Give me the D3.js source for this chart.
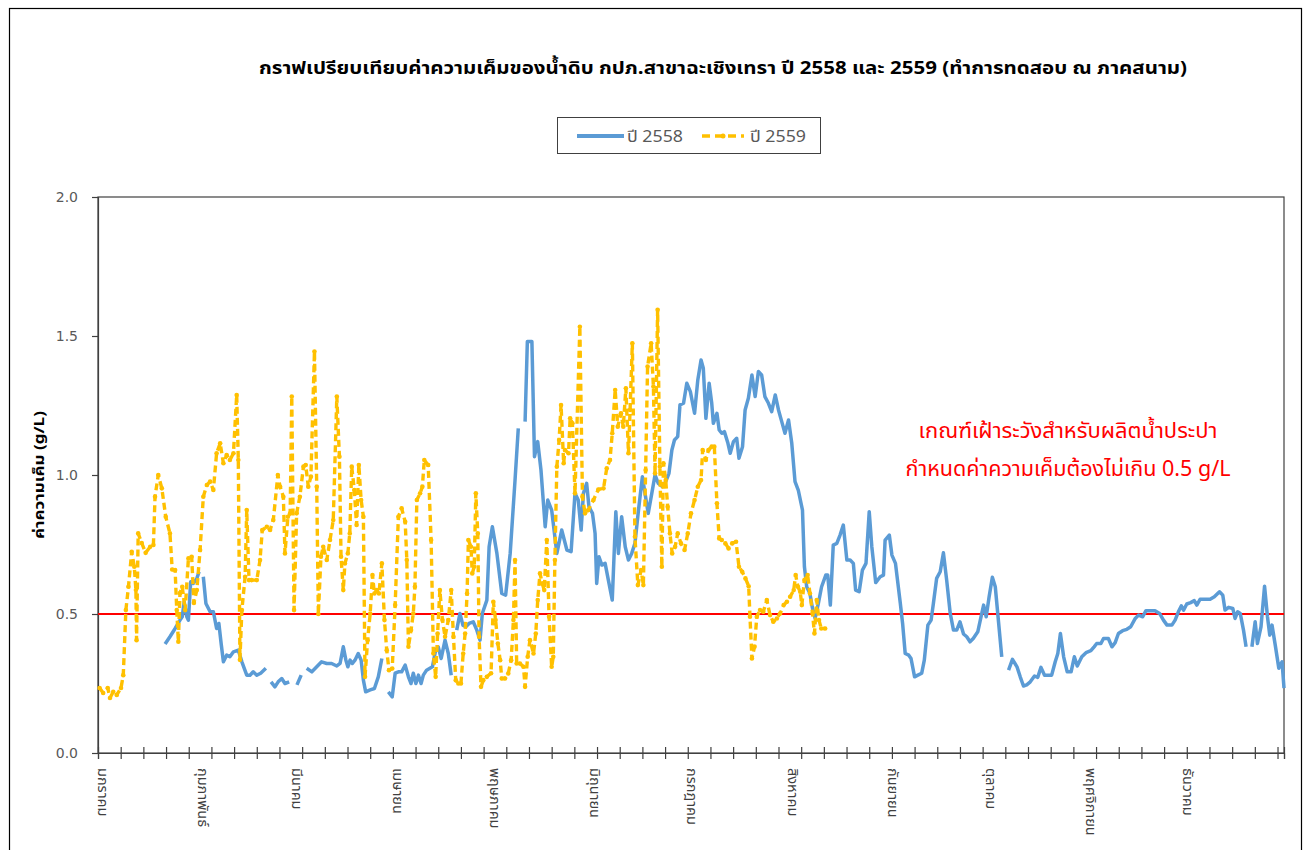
<!DOCTYPE html>
<html><head><meta charset="utf-8">
<script src="https://cdn.jsdelivr.net/npm/d3@7"></script>
<style>body{margin:0;background:#fff;} svg{display:block}</style>
</head><body><svg id="c" width="1306" height="850"></svg>
<script>
const titleText = "กราฟเปรียบเทียบค่าความเค็มของน้ำดิบ กปภ.สาขาฉะเชิงเทรา ปี 2558 และ 2559 (ทำการทดสอบ ณ ภาคสนาม)";
const yTitle = "ค่าความเค็ม (g/L)";
const seriesNames = ["ปี 2558", "ปี 2559"];
const monthLabels = ["มกราคม","กุมภาพันธ์","มีนาคม","เมษายน","พฤษภาคม","มิถุนายน","กรกฎาคม","สิงหาคม","กันยายน","ตุลาคม","พฤศจิกายน","ธันวาคม"];
const monthStartDays = [0,31,60,91,121,152,182,213,244,274,305,335];
const yTicks = [0, 0.5, 1.0, 1.5, 2.0];
const thresholdValue = 0.5;
const noteLines = ["เกณฑ์เฝ้าระวังสำหรับผลิตน้ำประปา", "กำหนดค่าความเค็มต้องไม่เกิน 0.5 g/L"];

// [day of year, salinity g/L]; null = no measurement (gap)
const salt2558 = [
[20.2,.392],[21.7,.418],[23.3,.448],[24.8,.478],[25.5,.49],[26.1,.544],[26.9,.49],[27.4,.478],[28.1,.616],[28.9,.61],[30,.628],[30.7,.652],null,
[32,.634],[32.8,.538],[34.1,.508],[35.1,.508],[36.1,.448],[36.8,.466],[37.5,.394],[38.2,.328],[39.2,.352],[40.2,.346],[41.3,.364],[42.8,.37],[43.9,.328],[45.4,.28],[46.4,.28],[47.4,.292],[48.5,.28],[49.7,.287],[51.3,.305],null,
[52.9,.256],[54.1,.238],[55.1,.256],[56.2,.268],[57.2,.25],[58.5,.256],null,
[60.9,.245],[62.2,.28],null,
[63.9,.305],[65.5,.292],[67,.31],[68.5,.328],[70.1,.322],[71.6,.322],[73.2,.313],[74.2,.322],[75.2,.382],[76,.334],[76.6,.31],[77.3,.334],[78,.322],[78.8,.334],[79.8,.358],[80.7,.334],[81.4,.262],[82.1,.22],[83.5,.227],[84.8,.232],[86,.274],[87.1,.34],null,
[89.1,.22],[90.3,.202],[91.2,.287],[92.2,.292],[93.2,.292],[94.3,.316],[95.3,.274],[96.1,.25],[96.8,.287],[97.6,.25],[98.4,.28],[99.2,.25],[99.9,.28],[100.9,.298],[102.7,.31],[103.7,.37],[104.5,.382],[105.4,.34],[106.6,.406],[107.6,.358],[108.5,.28],null,
[110.2,.442],[111.2,.502],[112.1,.46],[113,.454],[114,.466],[115.3,.472],[116.4,.442],[117.4,.406],[118.1,.502],[119.5,.55],[120.2,.742],[121.2,.814],[122.6,.718],[124.1,.574],[125.3,.568],[126.7,.718],[128.2,.982],[129.2,1.168],null,
[131.3,1.192],[132,1.48],[133.4,1.48],[134.2,1.066],[135.2,1.12],[136.2,1.018],[137.5,.814],[138.3,.91],[139.5,.874],[141.1,.718],[142.6,.802],[144.2,.73],[145.5,.724],[146.7,.934],[147.7,.91],[148.6,.802],[149.3,.934],[150.3,.97],[151,.886],[152.1,.862],[152.9,.79],[153.4,.61],[154.1,.706],[155,.676],[156,.682],[157,.622],[158.2,.55],[159.3,.868],[160.1,.718],[161.1,.85],[162.2,.742],[163.2,.694],[164.2,.718],[165.2,.754],[166.3,.874],[167.5,.994],[168.3,.934],[169.3,.862],[170.4,.934],[171.4,1.0],[172.4,.97],[173.7,.958],[174.7,.976],[175.7,1.006],[176.6,1.09],[177.4,1.126],[178.4,1.138],[179.1,1.252],[180.2,1.258],[181.2,1.33],[182.3,1.30],[183.6,1.222],[184.6,1.342],[185.6,1.414],[186.3,1.384],[187.1,1.204],[188.1,1.33],[188.9,1.258],[189.4,1.186],[190.5,1.222],[191.2,1.162],[192,1.15],[192.8,1.156],[193.9,1.114],[194.6,1.078],[195.6,1.12],[196.6,1.132],[197.3,1.06],[198.4,1.102],[199.2,1.234],[200.2,1.276],[201.3,1.36],[202.3,1.282],[203.3,1.372],[204.3,1.36],[205.3,1.282],[206.4,1.258],[207.4,1.228],[208.5,1.288],[209.5,1.234],[210.5,1.192],[211.5,1.15],[212.6,1.198],[213.6,1.114],[214.6,.976],[215.6,.946],[216.9,.874],[217.5,.67],[218.2,.598],[219.2,.574],[219.9,.526],[220.8,.484],[221.8,.538],[222.8,.598],[224.1,.64],[224.7,.64],[225.5,.532],[226.4,.748],[227.5,.754],[228.5,.784],[229.5,.82],[230.6,.694],[231.6,.694],[232.6,.682],[233.3,.586],[234.4,.58],[235.4,.658],[236.5,.682],[237.5,.868],[238.3,.742],[239.5,.613],[240.9,.634],[241.9,.64],[242.4,.766],[243.7,.784],[244.5,.712],[245.6,.682],[247.1,.538],[247.8,.466],[248.6,.358],[249.7,.352],[250.4,.34],[251.5,.274],[252.5,.28],[253.7,.287],[254.5,.334],[255.6,.46],[256.6,.478],[257.3,.538],[258.3,.628],[259.4,.652],[260.4,.72],[261.4,.622],[262.5,.502],[263.5,.442],[264.5,.442],[265.5,.472],[266.6,.428],[267.6,.418],[268.6,.40],[269.6,.412],[271,.436],[272,.49],[272.8,.532],[273.6,.49],[274.5,.562],[275.5,.632],[276.4,.598],[277.4,.472],[278.4,.346],null,
[280.5,.298],[281.7,.337],[283.1,.31],[284.1,.274],[285.1,.241],[286.1,.245],[287.2,.256],[288.5,.277],[289.5,.272],[290.5,.308],[291.6,.28],[292.8,.28],[293.8,.28],[294.9,.328],[295.7,.358],[296.5,.43],[297.5,.346],[298.6,.292],[299.8,.292],[300.8,.346],[301.7,.313],[303.1,.346],[304.4,.361],[305.9,.368],[306.9,.382],[307.7,.394],[309,.394],[309.8,.412],[311.3,.412],[312.4,.382],[313.4,.397],[314.4,.43],[315.7,.44],[317,.445],[318.2,.454],[319.6,.484],[320.6,.496],[321.9,.49],[322.9,.512],[324.2,.512],[325.7,.512],[327.1,.502],[328.3,.478],[329.4,.46],[330.9,.46],[331.9,.478],[332.9,.508],[333.8,.529],[334.5,.514],[335.5,.536],[336.7,.541],[337.8,.548],[338.6,.532],[339.6,.553],[341.2,.553],[342.7,.553],[344,.562],[345.6,.58],[346.6,.568],[347.3,.514],[348.4,.524],[349.7,.52],[350.4,.484],[351.2,.508],[352,.502],[353,.442],[353.8,.382],null,
[355.6,.382],[356.6,.472],[357.3,.394],[358.4,.454],[359.5,.60],[360.4,.49],[361.1,.424],[361.8,.46],[362.8,.388],[363.9,.305],[364.9,.328],[365.5,.233]
];

const salt2559 = [
[0,.234],[1.1,.216],[2.5,.234],[3.2,.198],[4.2,.22],[5.3,.209],[6.6,.234],[7.3,.28],[8.1,.514],[8.9,.598],[9.9,.724],[10.7,.67],[11.2,.586],[11.4,.406],[11.9,.79],[13,.755],[14.2,.72],[15.6,.742],[16.6,.748],[17.1,.922],[18.1,1.0],[19.2,.952],[20.4,.85],[21.7,.79],[22.4,.66],[23.3,.658],[23.8,.514],[24.3,.40],[24.8,.575],[25.5,.598],[26.4,.514],[27.4,.70],[28.4,.706],[29.1,.54],[30,.586],[31,.73],[32,.922],[33.1,.964],[34.1,.976],[35.1,.946],[36.1,1.078],[37.2,1.114],[38.2,1.042],[39.2,1.072],[40.2,1.054],[41.3,1.078],[42.3,1.288],[42.8,1.054],[43.3,.335],[43.9,.514],[44.9,.634],[45.4,.874],[46.1,.622],[46.9,.622],[48.5,.622],[49.5,.694],[50.2,.802],[51.6,.814],[52.6,.802],[53.6,.838],[55,1.0],[55.7,.958],[56.7,.922],[57.2,.718],[58.1,.85],[58.8,.862],[59.3,1.282],[60,.514],[60.8,.862],[61.8,.922],[62.9,1.03],[63.6,1.036],[64.4,.958],[65.2,.994],[66.3,1.444],[67,.958],[67.5,.50],[68.3,.706],[69,.742],[70.1,.694],[71.1,.766],[72.1,.838],[73.2,1.282],[74,1.066],[74.5,.706],[75.2,.586],[75.7,.682],[76.6,.718],[77.2,.79],[77.8,1.03],[78.6,.946],[79.3,.82],[80,1.036],[80.7,.91],[81.4,.85],[81.9,.274],[82.7,.406],[83.5,.502],[84.2,.64],[84.8,.574],[85.5,.586],[86.2,.574],[87.1,.682],[87.9,.478],[88.6,.37],[89.3,.298],[90.3,.304],[91.2,.532],[92.2,.85],[93.2,.88],[94.3,.832],[94.8,.694],[95.3,.382],[96.1,.442],[96.8,.502],[97.3,.598],[97.9,.91],[98.9,.934],[99.6,.958],[100.2,1.054],[101.4,1.036],[102.3,.766],[103,.358],[103.7,.274],[104.3,.43],[105,.586],[105.8,.478],[106.6,.418],[107.6,.478],[108.5,.586],[109.2,.418],[109.9,.262],[110.7,.25],[111.5,.25],[112.2,.358],[112.8,.43],[113.4,.574],[113.8,.766],[114.6,.742],[115,.646],[115.6,.67],[116.1,.934],[116.7,.79],[117.1,.418],[117.7,.238],[118.4,.262],[119.5,.274],[120.8,.287],[121.5,.544],[122.2,.478],[122.9,.394],[123.6,.334],[124.1,.268],[125.1,.268],[126.1,.286],[127,.334],[127.7,.478],[128.2,.694],[128.7,.322],[129.7,.322],[130.8,.31],[131.3,.238],[132.1,.346],[132.8,.406],[133.9,.358],[134.6,.43],[135.2,.55],[135.9,.646],[136.6,.61],[137.2,.586],[138,.766],[138.7,.49],[139.5,.31],[140,.346],[140.5,.694],[141.1,1.03],[141.8,1.126],[142.4,1.252],[143.2,1.042],[143.6,1.09],[144.7,1.078],[145.2,1.204],[145.9,1.186],[146.7,.934],[148.2,1.533],[149,.922],[149.8,.862],[150.8,.874],[152.4,.91],[153.9,.948],[155.5,.952],[156.5,1.024],[157.5,1.054],[158.2,1.15],[159.1,1.306],[159.9,1.174],[160.9,1.222],[161.6,1.174],[162.4,1.312],[163.2,1.078],[163.7,1.234],[164.4,1.474],[165.2,.778],[166.1,.604],[167.1,.658],[167.8,.604],[168.5,1.018],[169.1,1.39],[170.2,1.474],[170.9,1.318],[171.4,1.006],[172.2,1.594],[172.9,1.03],[173.5,.67],[174,1.042],[174.7,.982],[175.3,.886],[176,.79],[176.7,.718],[177.6,.742],[178.4,.79],[179.4,.754],[180.5,.73],[181.5,.79],[182.5,.862],[183.6,.91],[184.6,.958],[185.6,.982],[186.1,1.09],[187.1,1.054],[187.9,1.09],[188.9,1.102],[189.7,1.102],[190.5,.898],[191.2,.772],[192,.766],[193.1,.754],[194.1,.736],[195.2,.754],[196.4,.76],[197.3,.67],[198.3,.652],[199.3,.628],[200.3,.60],[200.7,.49],[201.3,.34],[202.1,.382],[202.8,.49],[203.8,.514],[204.8,.508],[205.9,.55],[206.9,.496],[207.9,.472],[209,.484],[210,.502],[211.1,.532],[212.1,.544],[213.1,.562],[214.2,.586],[214.8,.64],[215.5,.598],[216.2,.58],[216.7,.532],[217.5,.622],[218.5,.64],[219.2,.574],[220,.502],[220.6,.43],[221.3,.55],[222,.478],[222.7,.448],[223.9,.448]
];

const colors = {s2558: "#5B9BD5", s2559: "#FFC000", threshold: "#FF0000", axis: "#404040", label: "#595959"};
const thaiFont = "Tahoma, 'Noto Sans Thai', 'Leelawadee UI', 'Noto Sans', sans-serif";

const svg = d3.select("#c");
svg.append("rect").attr("x",9.5).attr("y",8.5).attr("width",1292).attr("height",900)
  .attr("fill","#fff").attr("stroke","#000").attr("stroke-width",1.2);

const W = {left:98, right:1284, top:197, bottom:753};
const x = d3.scaleLinear().domain([0,366]).range([W.left, W.right]);
const y = d3.scaleLinear().domain([0,2]).range([W.bottom, W.top]);
const px = d => x(d[0] + 0.5);

// plot frame
svg.append("rect").attr("x",W.left).attr("y",W.top).attr("width",W.right-W.left).attr("height",W.bottom-W.top)
  .attr("fill","none").attr("stroke",colors.axis).attr("stroke-width",1.2);

// title
svg.append("text").attr("x",723).attr("y",74).attr("text-anchor","middle")
  .attr("font-family",thaiFont).attr("font-size",18).attr("font-weight","bold").attr("fill","#000")
  .attr("textLength",928).attr("lengthAdjust","spacingAndGlyphs").text(titleText);

// legend
const lg = svg.append("g");
lg.append("rect").attr("x",557.5).attr("y",117.5).attr("width",263).attr("height",36)
  .attr("fill","#fff").attr("stroke","#404040").attr("stroke-width",1);
lg.append("line").attr("x1",577).attr("x2",624).attr("y1",136).attr("y2",136)
  .attr("stroke",colors.s2558).attr("stroke-width",4);
lg.append("text").attr("x",627).attr("y",142).attr("font-family",thaiFont).attr("font-size",16).attr("fill",colors.label)
  .attr("textLength",56).attr("lengthAdjust","spacingAndGlyphs").text(seriesNames[0]);
lg.append("line").attr("x1",702).attr("x2",744).attr("y1",136).attr("y2",136)
  .attr("stroke",colors.s2559).attr("stroke-width",3.5).attr("stroke-dasharray","8,5");
lg.append("circle").attr("cx",723).attr("cy",136).attr("r",2.5).attr("fill",colors.s2559);
lg.append("text").attr("x",750).attr("y",142).attr("font-family",thaiFont).attr("font-size",16).attr("fill",colors.label)
  .attr("textLength",56).attr("lengthAdjust","spacingAndGlyphs").text(seriesNames[1]);

// y axis
const ya = svg.append("g").attr("transform",`translate(${W.left},0)`)
  .call(d3.axisLeft(y).tickValues(yTicks).tickFormat(d3.format(".1f")).tickSize(6).tickPadding(14));
ya.select(".domain").attr("stroke",colors.axis).attr("stroke-width",1.2);
ya.selectAll(".tick line").attr("stroke",colors.axis).attr("stroke-width",1.2);
ya.selectAll(".tick text").attr("font-family","'DejaVu Sans', 'Liberation Sans', sans-serif").attr("font-size",14).attr("fill",colors.label);

// y title
svg.append("text").attr("transform",`translate(44,${(W.top+W.bottom)/2}) rotate(-90)`)
  .attr("text-anchor","middle").attr("font-family",thaiFont).attr("font-size",14).attr("font-weight","bold").attr("fill","#000")
  .attr("textLength",128).attr("lengthAdjust","spacingAndGlyphs").text(yTitle);

// x axis: weekly ticks crossing the axis line
const xa = svg.append("g").attr("transform",`translate(0,${W.bottom})`)
  .call(d3.axisBottom(x).tickValues(d3.range(0,366,7).concat([366])).tickFormat("").tickSize(6));
xa.select(".domain").attr("stroke",colors.axis).attr("stroke-width",1.2);
xa.selectAll(".tick line").attr("y1",-6).attr("y2",6).attr("stroke",colors.axis).attr("stroke-width",1.2);

// month labels
svg.append("g").selectAll("text").data(monthStartDays).join("text")
  .attr("transform",(d)=>`translate(${x(d+0.5)+2},${W.bottom+15}) rotate(90)`)
  .attr("text-anchor","start").attr("dominant-baseline","central")
  .attr("font-family",thaiFont).attr("font-size",14.5).attr("fill",colors.axis)
  .text((d,i)=>monthLabels[i]);

// threshold line
svg.append("line").attr("x1",W.left).attr("x2",W.right).attr("y1",y(thresholdValue)).attr("y2",y(thresholdValue))
  .attr("stroke",colors.threshold).attr("stroke-width",2);

const line = d3.line().defined(d => d != null).x(px).y(d => y(d[1]));

// 2558 series
svg.append("path").datum(salt2558).attr("d",line).attr("fill","none")
  .attr("stroke",colors.s2558).attr("stroke-width",3.5).attr("stroke-linejoin","round");

// 2559 series
svg.append("path").datum(salt2559).attr("d",line).attr("fill","none")
  .attr("stroke",colors.s2559).attr("stroke-width",3.4).attr("stroke-dasharray","7,4").attr("stroke-linejoin","round");
svg.append("g").selectAll("circle").data(salt2559).join("circle")
  .attr("cx",px).attr("cy",d=>y(d[1])).attr("r",2.3).attr("fill",colors.s2559);

// note
svg.append("g").selectAll("text").data(noteLines).join("text")
  .attr("x",1068).attr("y",(d,i)=>438+i*38).attr("text-anchor","middle")
  .attr("font-family",thaiFont).attr("font-size",21).attr("fill",colors.threshold)
  .attr("textLength",(d,i)=>[299,325][i]).attr("lengthAdjust","spacingAndGlyphs").text(d=>d);
</script></body></html>
